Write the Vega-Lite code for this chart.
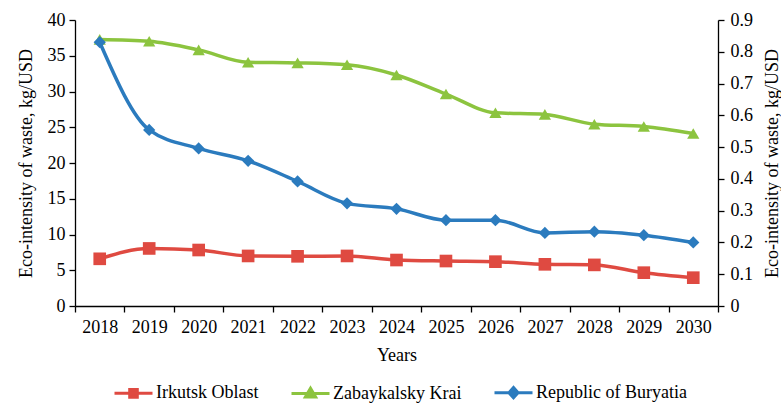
{
  "$schema": "https://vega.github.io/schema/vega-lite/v6.json",
  "width": 643,
  "height": 286,
  "autosize": {"type": "none"},
  "padding": {"left": 75, "top": 20, "right": 63, "bottom": 97},
  "background": "white",
  "config": {
    "view": {"stroke": null},
    "font": "Liberation Serif",
    "axis": {
      "grid": false,
      "domainColor": "#000000",
      "domainWidth": 1.3,
      "tickColor": "#000000",
      "tickWidth": 1.3,
      "tickSize": 6,
      "labelFont": "Liberation Serif",
      "labelFontSize": 18,
      "labelColor": "#000000",
      "titleFont": "Liberation Serif",
      "titleFontSize": 18,
      "titleFontWeight": "normal",
      "titleColor": "#000000"
    },
    "legend": {
      "labelFont": "Liberation Serif",
      "labelFontSize": 18,
      "labelColor": "#000000",
      "padding": 0
    }
  },
  "data": {
    "values": [
      {"year": "2018", "region": "Irkutsk Oblast", "value": 6.6},
      {"year": "2019", "region": "Irkutsk Oblast", "value": 8.05},
      {"year": "2020", "region": "Irkutsk Oblast", "value": 7.83},
      {"year": "2021", "region": "Irkutsk Oblast", "value": 7.0},
      {"year": "2022", "region": "Irkutsk Oblast", "value": 6.95},
      {"year": "2023", "region": "Irkutsk Oblast", "value": 7.0},
      {"year": "2024", "region": "Irkutsk Oblast", "value": 6.43},
      {"year": "2025", "region": "Irkutsk Oblast", "value": 6.29},
      {"year": "2026", "region": "Irkutsk Oblast", "value": 6.2},
      {"year": "2027", "region": "Irkutsk Oblast", "value": 5.83},
      {"year": "2028", "region": "Irkutsk Oblast", "value": 5.75},
      {"year": "2029", "region": "Irkutsk Oblast", "value": 4.66},
      {"year": "2030", "region": "Irkutsk Oblast", "value": 3.96},
      {"year": "2018", "region": "Zabaykalsky Krai", "value": 0.839},
      {"year": "2019", "region": "Zabaykalsky Krai", "value": 0.833},
      {"year": "2020", "region": "Zabaykalsky Krai", "value": 0.806},
      {"year": "2021", "region": "Zabaykalsky Krai", "value": 0.767},
      {"year": "2022", "region": "Zabaykalsky Krai", "value": 0.765},
      {"year": "2023", "region": "Zabaykalsky Krai", "value": 0.759},
      {"year": "2024", "region": "Zabaykalsky Krai", "value": 0.727},
      {"year": "2025", "region": "Zabaykalsky Krai", "value": 0.667},
      {"year": "2026", "region": "Zabaykalsky Krai", "value": 0.608},
      {"year": "2027", "region": "Zabaykalsky Krai", "value": 0.603},
      {"year": "2028", "region": "Zabaykalsky Krai", "value": 0.572},
      {"year": "2029", "region": "Zabaykalsky Krai", "value": 0.565},
      {"year": "2030", "region": "Zabaykalsky Krai", "value": 0.543},
      {"year": "2018", "region": "Republic of Buryatia", "value": 0.83},
      {"year": "2019", "region": "Republic of Buryatia", "value": 0.554},
      {"year": "2020", "region": "Republic of Buryatia", "value": 0.496},
      {"year": "2021", "region": "Republic of Buryatia", "value": 0.457},
      {"year": "2022", "region": "Republic of Buryatia", "value": 0.392},
      {"year": "2023", "region": "Republic of Buryatia", "value": 0.323},
      {"year": "2024", "region": "Republic of Buryatia", "value": 0.306},
      {"year": "2025", "region": "Republic of Buryatia", "value": 0.27},
      {"year": "2026", "region": "Republic of Buryatia", "value": 0.27},
      {"year": "2027", "region": "Republic of Buryatia", "value": 0.23},
      {"year": "2028", "region": "Republic of Buryatia", "value": 0.234},
      {"year": "2029", "region": "Republic of Buryatia", "value": 0.223},
      {"year": "2030", "region": "Republic of Buryatia", "value": 0.2}
    ]
  },
  "encoding": {
    "x": {
      "field": "year",
      "type": "ordinal",
      "bandPosition": 0.5,
      "scale": {"type": "band", "paddingInner": 0, "paddingOuter": 0},
      "axis": {"title": "Years", "labelAngle": 0, "tickBand": "extent", "labelPadding": 6, "titlePadding": 10}
    },
    "color": {
      "field": "region",
      "type": "nominal",
      "scale": {
        "domain": ["Irkutsk Oblast", "Zabaykalsky Krai", "Republic of Buryatia"],
        "range": ["#DF4A41", "#8CC43F", "#2B7BBE"]
      },
      "legend": {
        "title": null,
        "orient": "none",
        "direction": "horizontal",
        "legendX": 38,
        "legendY": 352,
        "symbolSize": 1444,
        "symbolStrokeWidth": 3,
        "labelOffset": 2,
        "columnPadding": 26,
        "encode": {
          "symbols": {
            "update": {
              "shape": {"signal": "datum.value === 'Irkutsk Oblast' ? 'M-1,0H1M-0.2,-0.2H0.2V0.2H-0.2Z' : datum.value === 'Zabaykalsky Krai' ? 'M-1,0H1M0,-0.28L0.27,0.18H-0.27Z' : 'M-1,0H1M0,-0.27L0.24,0L0,0.27L-0.24,0Z'"},
              "fill": {"signal": "datum.value === 'Irkutsk Oblast' ? '#DF4A41' : datum.value === 'Zabaykalsky Krai' ? '#8CC43F' : '#2B7BBE'"},
              "stroke": {"signal": "datum.value === 'Irkutsk Oblast' ? '#DF4A41' : datum.value === 'Zabaykalsky Krai' ? '#8CC43F' : '#2B7BBE'"},
              "opacity": {"value": 1}
            }
          }
        }
      }
    }
  },
  "layer": [
    {
      "transform": [{"filter": "datum.region === 'Irkutsk Oblast'"}],
      "encoding": {
        "y": {
          "field": "value",
          "type": "quantitative",
          "scale": {"domain": [0, 40], "nice": false},
          "axis": {"orient": "left", "values": [0, 5, 10, 15, 20, 25, 30, 35, 40], "title": "Eco-intensity of waste, kg/USD", "labelPadding": 4, "titlePadding": 12}
        }
      },
      "layer": [
        {"mark": {"type": "line", "strokeWidth": 3.5, "interpolate": "monotone"}},
        {"mark": {"type": "point", "filled": true, "opacity": 1, "size": 160, "shape": "square"}}
      ]
    },
    {
      "transform": [{"filter": "datum.region !== 'Irkutsk Oblast'"}],
      "encoding": {
        "y": {
          "field": "value",
          "type": "quantitative",
          "scale": {"domain": [0, 0.9], "nice": false},
          "axis": {"orient": "right", "values": [0, 0.1, 0.2, 0.3, 0.4, 0.5, 0.6, 0.7, 0.8, 0.9], "format": ".1~f", "title": "Eco-intensity of waste, kg/USD", "titleAngle": 270, "titleBaseline": "top", "labelPadding": 6, "titlePadding": 11}
        }
      },
      "layer": [
        {"mark": {"type": "line", "strokeWidth": 3.5, "interpolate": "monotone"}},
        {"transform": [{"filter": "datum.region === 'Zabaykalsky Krai'"}], "mark": {"type": "point", "filled": true, "opacity": 1, "size": 150, "shape": "triangle-up"}},
        {"transform": [{"filter": "datum.region === 'Republic of Buryatia'"}], "mark": {"type": "point", "filled": true, "opacity": 1, "size": 150, "shape": "diamond"}}
      ]
    }
  ],
  "resolve": {"scale": {"y": "independent"}}
}
